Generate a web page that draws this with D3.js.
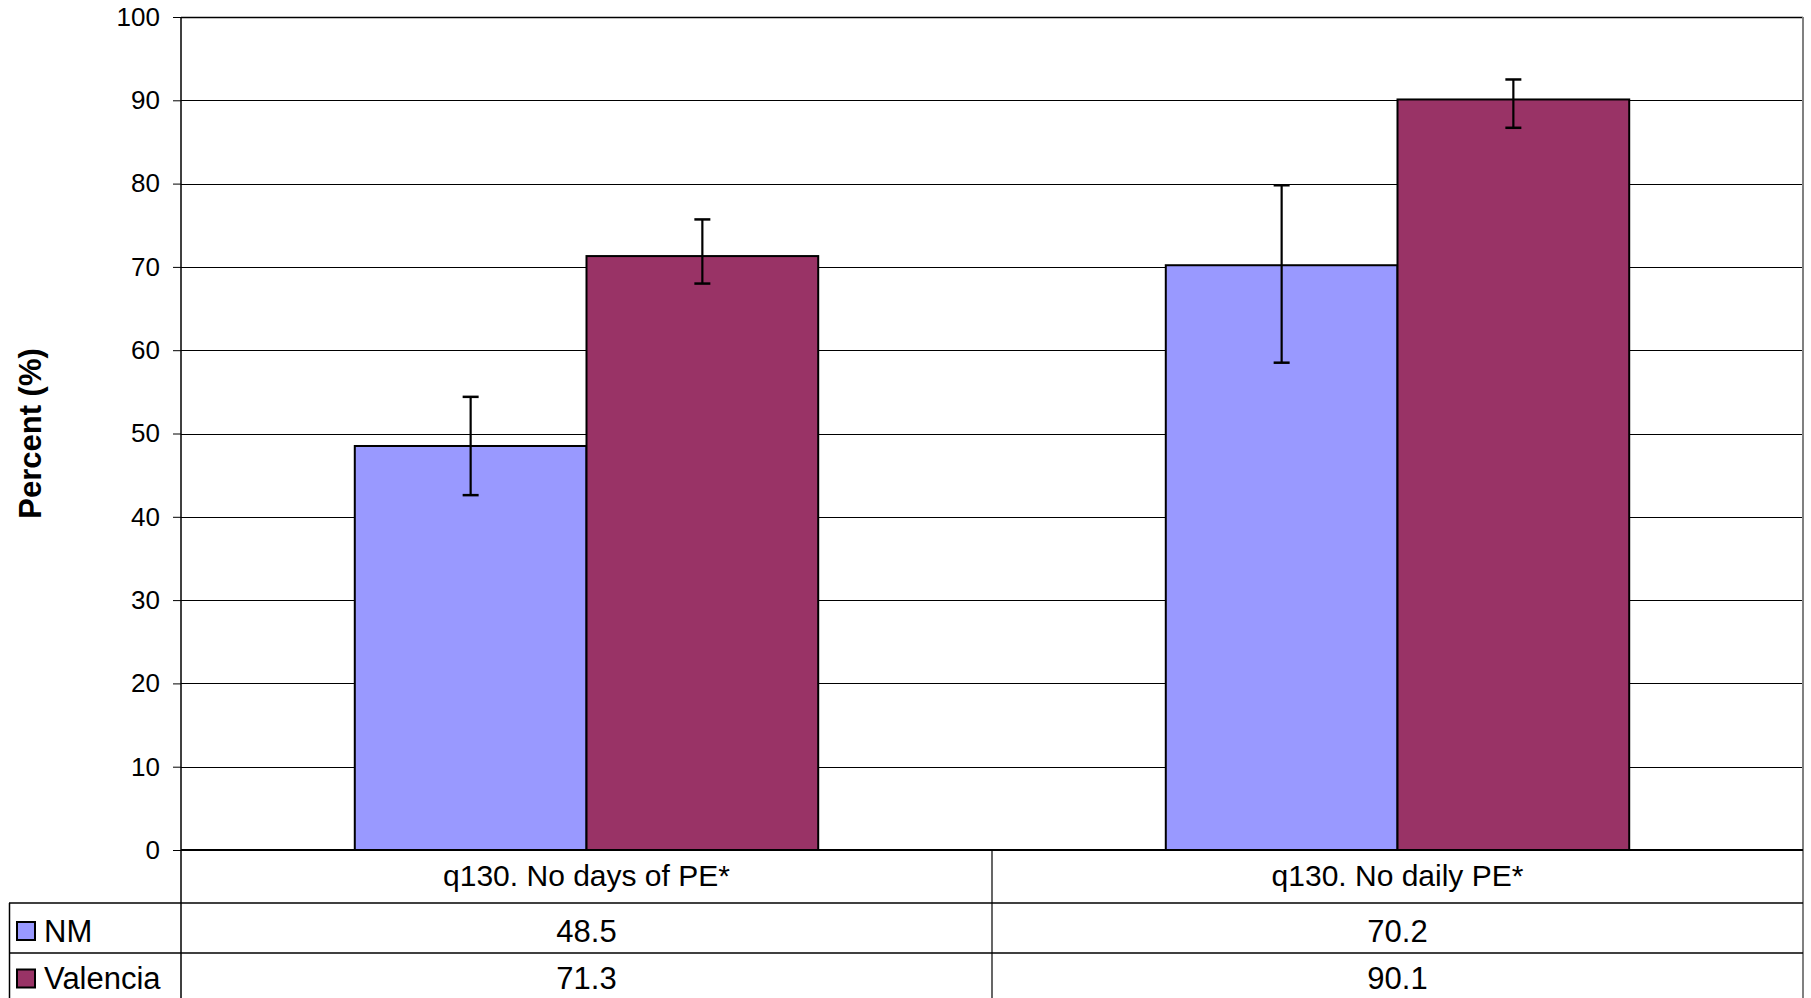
<!DOCTYPE html>
<html>
<head>
<meta charset="utf-8">
<script src="https://cdn.jsdelivr.net/npm/d3@7"></script>
<style>
  html, body { margin: 0; padding: 0; background: #fff; }
  svg { display: block; font-family: "Liberation Sans", Arial, sans-serif; }
</style>
</head>
<body>
<svg id="chart" width="1811" height="998"></svg>
<script>
// ---- data ----
const categories = ["q130. No days of PE*", "q130. No daily PE*"];
const seriesNames = ["NM", "Valencia"];
const seriesColors = ["#9999FF", "#993366"];
const nmValues = [48.5, 70.2];
const valenciaValues = [71.3, 90.1];
const nmLower = [42.6, 58.5];
const nmUpper = [54.4, 79.8];
const valenciaLower = [68.0, 86.7];
const valenciaUpper = [75.7, 92.5];
const yTicks = [0, 10, 20, 30, 40, 50, 60, 70, 80, 90, 100];
const yTitle = "Percent (%)";

const values = [nmValues, valenciaValues];
const lowers = [nmLower, valenciaLower];
const uppers = [nmUpper, valenciaUpper];

// ---- layout ----
const plotLeft = 181, plotRight = 1803, plotTop = 17, plotBottom = 850;
const tableLeft = 9;
const rowLines = [903, 953];
const tableBottom = 998;

const svg = d3.select("#chart");

const x0 = d3.scaleBand().domain(categories).range([plotLeft, plotRight]).padding(0);
const x1 = d3.scaleBand().domain(seriesNames).range([0, x0.bandwidth()])
  .paddingInner(0).paddingOuter(0.75);
const y = d3.scaleLinear().domain([0, 100]).range([plotBottom, plotTop]);

// gridlines
svg.append("g").selectAll("line").data(yTicks.filter(t => t > 0)).join("line")
  .attr("x1", plotLeft).attr("x2", plotRight)
  .attr("y1", d => Math.round(y(d)) + 0.5).attr("y2", d => Math.round(y(d)) + 0.5)
  .attr("stroke", "#000").attr("stroke-width", 1);

// bars
const groups = svg.append("g").selectAll("g").data(categories).join("g")
  .attr("transform", c => `translate(${x0(c)},0)`);

seriesNames.forEach((s, si) => {
  groups.append("rect")
    .attr("x", (c, ci) => x1(s))
    .attr("y", (c, ci) => y(values[si][ci]))
    .attr("width", x1.bandwidth())
    .attr("height", (c, ci) => y(0) - y(values[si][ci]))
    .attr("fill", seriesColors[si])
    .attr("stroke", "#000").attr("stroke-width", 2);
});

// error bars
seriesNames.forEach((s, si) => {
  const cx = x1(s) + x1.bandwidth() / 2;
  groups.append("line")
    .attr("x1", cx).attr("x2", cx)
    .attr("y1", (c, ci) => y(uppers[si][ci])).attr("y2", (c, ci) => y(lowers[si][ci]))
    .attr("stroke", "#000").attr("stroke-width", 2.2);
  ["u", "l"].forEach(k => {
    groups.append("line")
      .attr("x1", cx - 8).attr("x2", cx + 8)
      .attr("y1", (c, ci) => y((k === "u" ? uppers : lowers)[si][ci]))
      .attr("y2", (c, ci) => y((k === "u" ? uppers : lowers)[si][ci]))
      .attr("stroke", "#000").attr("stroke-width", 2.5);
  });
});

// plot border top and right
svg.append("line").attr("x1", plotLeft).attr("x2", plotRight)
  .attr("y1", plotTop + 0.5).attr("y2", plotTop + 0.5).attr("stroke", "#000").attr("stroke-width", 1.5);
svg.append("line").attr("x1", plotRight).attr("x2", plotRight)
  .attr("y1", plotTop).attr("y2", tableBottom).attr("stroke", "#808080").attr("stroke-width", 2);

// y axis
const yAxis = d3.axisLeft(y).tickValues(yTicks).tickSize(8).tickPadding(13).tickFormat(d3.format("d"));
const ya = svg.append("g").attr("transform", `translate(${plotLeft},0)`).call(yAxis);
ya.select(".domain").attr("stroke", "#000").attr("stroke-width", 1.5)
  .attr("d", `M0,${plotTop}V${tableBottom}`);
ya.selectAll(".tick line").attr("stroke", "#000");
ya.selectAll(".tick text").attr("font-size", 26).attr("fill", "#000")
  .attr("font-family", "Liberation Sans, Arial, sans-serif");

// baseline
svg.append("line").attr("x1", plotLeft).attr("x2", plotRight)
  .attr("y1", plotBottom).attr("y2", plotBottom).attr("stroke", "#000").attr("stroke-width", 2);

// y title
svg.append("text")
  .attr("transform", `translate(30,${(plotTop + plotBottom) / 2}) rotate(-90)`)
  .attr("text-anchor", "middle").attr("dy", "0.35em")
  .attr("font-size", 31).attr("font-weight", "bold").attr("fill", "#000")
  .text(yTitle);

// ---- data table ----
const tbl = svg.append("g");
rowLines.forEach(ry => {
  tbl.append("line").attr("x1", tableLeft).attr("x2", plotRight)
    .attr("y1", ry).attr("y2", ry).attr("stroke", "#000").attr("stroke-width", 1.5);
});
tbl.append("line").attr("x1", tableLeft + 0.5).attr("x2", tableLeft + 0.5)
  .attr("y1", rowLines[0]).attr("y2", tableBottom).attr("stroke", "#000").attr("stroke-width", 1.5);
tbl.append("line").attr("x1", x0(categories[1])).attr("x2", x0(categories[1]))
  .attr("y1", plotBottom).attr("y2", tableBottom).attr("stroke", "#000").attr("stroke-width", 1.2);

const rowCenters = [(plotBottom + rowLines[0]) / 2 - 1, (rowLines[0] + rowLines[1]) / 2 + 3, (rowLines[1] + tableBottom) / 2 + 3];

tbl.selectAll("text.cat").data(categories).join("text").attr("class", "cat")
  .attr("x", c => x0(c) + x0.bandwidth() / 2).attr("y", rowCenters[0])
  .attr("dy", "0.35em").attr("text-anchor", "middle").attr("font-size", 30).attr("fill", "#000")
  .text(c => c);

seriesNames.forEach((s, si) => {
  const cy = rowCenters[si + 1];
  tbl.append("rect").attr("x", 17).attr("y", cy - 9).attr("width", 18).attr("height", 18)
    .attr("fill", seriesColors[si]).attr("stroke", "#000").attr("stroke-width", 2);
  tbl.append("text").attr("x", 44).attr("y", cy).attr("dy", "0.35em")
    .attr("font-size", 31).attr("fill", "#000").text(s);
  tbl.selectAll(null).data(categories).join("text")
    .attr("x", c => x0(c) + x0.bandwidth() / 2).attr("y", cy).attr("dy", "0.35em")
    .attr("text-anchor", "middle").attr("font-size", 31).attr("fill", "#000")
    .text((c, ci) => values[si][ci].toFixed(1));
});
</script>
</body>
</html>
